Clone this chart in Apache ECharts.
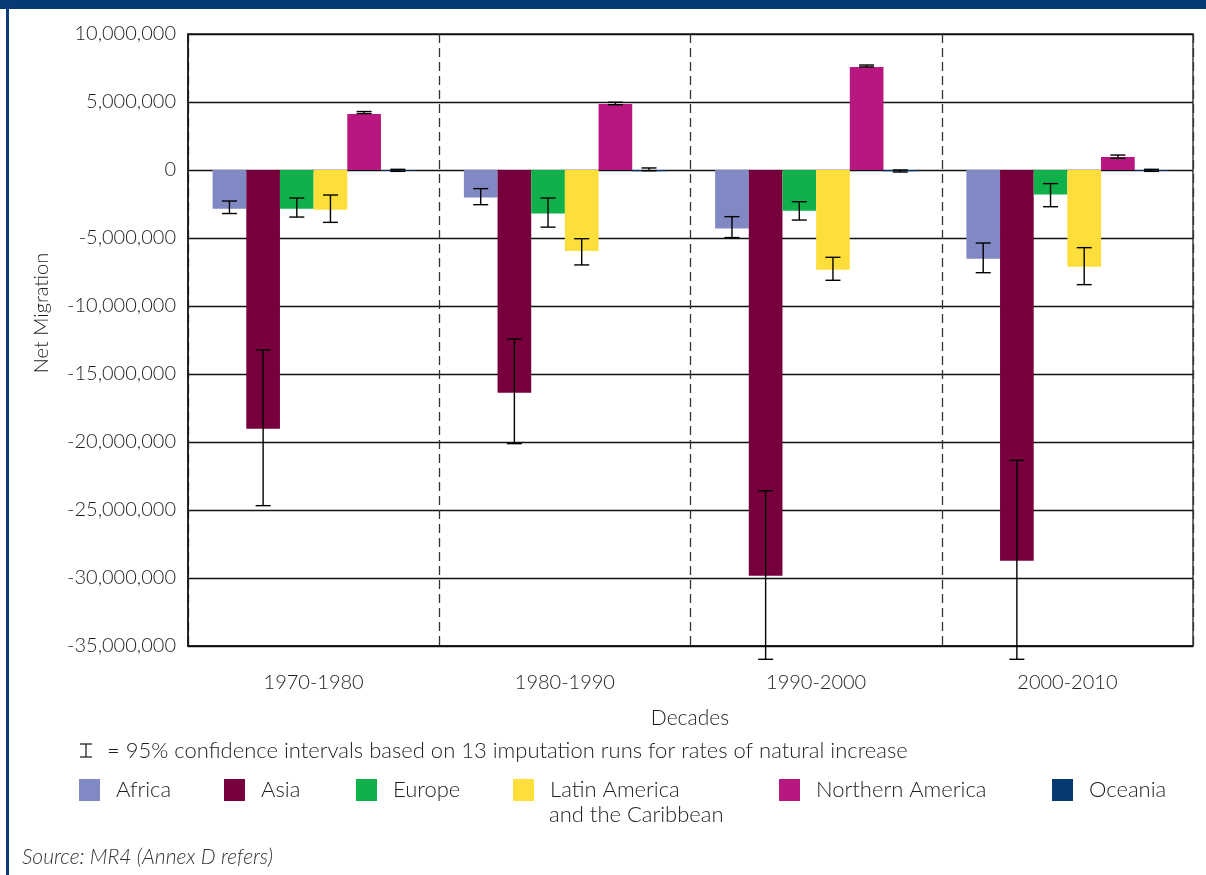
<!DOCTYPE html>
<html>
<head>
<meta charset="utf-8">
<script src="https://cdn.jsdelivr.net/npm/echarts@6/dist/echarts.min.js"></script>
<style>
html,body{margin:0;padding:0;background:#fff;}
#chart{width:1206px;height:875px;}
</style>
</head>
<body>
<div id="chart"></div>
<script>
// ---- data ----
const decades = ['1970-1980', '1980-1990', '1990-2000', '2000-2010'];
const regions = ['Africa', 'Asia', 'Europe', 'Latin America and the Caribbean', 'Northern America', 'Oceania'];
const africa   = [-2850000, -2030000, -4300000, -6520000];
const asia     = [-19020000, -16370000, -29830000, -28730000];
const europe   = [-2850000, -3200000, -2990000, -1810000];
const latinAm  = [-2920000, -5950000, -7330000, -7110000];
const northAm  = [4120000, 4850000, 7570000, 960000];
const oceania  = [-60000, -100000, -100000, -60000];
// 95% confidence intervals [low, high]
const africaCI  = [[-3200000, -2280000], [-2550000, -1370000], [-4970000, -3430000], [-7550000, -5370000]];
const asiaCI    = [[-24680000, -13240000], [-20120000, -12430000], [-35980000, -23580000], [-35980000, -21350000]];
const europeCI  = [[-3460000, -2060000], [-4200000, -2060000], [-3680000, -2330000], [-2700000, -1000000]];
const latinAmCI = [[-3850000, -1840000], [-6980000, -5050000], [-8110000, -6420000], [-8430000, -5710000]];
const northAmCI = [[4150000, 4300000], [4800000, 4980000], [7580000, 7720000], [860000, 1100000]];
const oceaniaCI = [[-100000, 50000], [-50000, 150000], [-150000, 0], [-100000, 50000]];
const yTicks = { min: -35000000, max: 10000000, interval: 5000000 };

const colors = ['#8189c4', '#77003c', '#10b04a', '#fede3a', '#b8177f', '#063872'];
const values = [africa, asia, europe, latinAm, northAm, oceania];
const cis = [africaCI, asiaCI, europeCI, latinAmCI, northAmCI, oceaniaCI];

const CAT_GAP = 0.196;
const FONT = 'Lato, "Open Sans", sans-serif';
const FW = 300;
const TXT = '#1e1e1e';

const chart = echarts.init(document.getElementById('chart'), null, { renderer: 'canvas' });

function errRender(si) {
  return function (params, api) {
    const cat = api.value(0);
    const lo = api.coord([cat, api.value(1)]);
    const hi = api.coord([cat, api.value(2)]);
    const cw = api.size([1, 0])[0];
    const band = cw * (1 - CAT_GAP);
    const bw = band / regions.length;
    const x = lo[0] - band / 2 + bw * (si + 0.5);
    const cap = 7.5;
    const st = { stroke: '#000', lineWidth: 1.4 };
    return {
      type: 'group',
      children: [
        { type: 'line', shape: { x1: x, y1: lo[1], x2: x, y2: hi[1] }, style: st },
        { type: 'line', shape: { x1: x - cap, y1: lo[1], x2: x + cap, y2: lo[1] }, style: st },
        { type: 'line', shape: { x1: x - cap, y1: hi[1], x2: x + cap, y2: hi[1] }, style: st }
      ]
    };
  };
}

const series = [];
regions.forEach((r, i) => {
  series.push({
    name: r,
    type: 'bar',
    data: values[i],
    barGap: '0%',
    barCategoryGap: (CAT_GAP * 100) + '%',
    itemStyle: { color: colors[i] },
    z: 2
  });
});
regions.forEach((r, i) => {
  series.push({
    name: r + ' CI',
    type: 'custom',
    renderItem: errRender(i),
    data: cis[i].map((d, k) => [k, d[0], d[1]]),
    z: 5,
    silent: true
  });
});

const legendLefts = [79, 224, 356, 513, 779, 1052];
const legendLabels = ['Africa', 'Asia', 'Europe', 'Latin America', 'Northern America', 'Oceania'];
const legends = regions.map((r, i) => ({
  data: [r],
  left: legendLefts[i],
  top: 779,
  padding: 0,
  itemWidth: 21,
  itemHeight: 22,
  icon: 'rect',
  selectedMode: false,
  formatter: () => legendLabels[i],
  textStyle: {
    fontFamily: FONT, fontSize: 22, fontWeight: FW, color: TXT,
    padding: [0, 0, 0, 11]
  }
}));

const option = {
  animation: false,
  backgroundColor: '#fff',
  grid: { left: 188, right: 13, top: 34, bottom: 229, show: true, borderColor: '#222', borderWidth: 1.3 },
  xAxis: {
    type: 'category',
    data: decades,
    axisLine: { onZero: false, lineStyle: { color: '#111', width: 1.5 } },
    axisTick: { show: false },
    axisLabel: { fontFamily: FONT, fontSize: 20, fontWeight: FW, color: TXT, margin: 27 },
    splitLine: { show: true, lineStyle: { color: '#333', type: [9, 5], width: 1.3 } }
  },
  yAxis: {
    type: 'value',
    min: yTicks.min, max: yTicks.max, interval: yTicks.interval,
    axisLine: { show: true, lineStyle: { color: '#111', width: 1.5 } },
    axisTick: { show: false },
    axisLabel: {
      fontFamily: FONT, fontSize: 20, fontWeight: FW, color: TXT, margin: 12,
      formatter: v => v.toLocaleString('en-US')
    },
    splitLine: { show: true, lineStyle: { color: '#111', width: 1.3 } }
  },
  legend: legends,
  series: series,
  graphic: [
    { type: 'rect', left: 0, top: 0, shape: { width: 1206, height: 9 }, style: { fill: '#063a74' } },
    { type: 'rect', left: 6, top: 0, shape: { width: 3, height: 875 }, style: { fill: '#0a3a78' } },
    {
      type: 'text', x: 690, y: 718,
      style: { text: 'Decades', fontFamily: FONT, fontSize: 21, fontWeight: FW, fill: TXT, align: 'center', verticalAlign: 'middle' }
    },
    {
      type: 'text', x: 42, y: 313, rotation: Math.PI / 2,
      style: { text: 'Net Migration', fontFamily: FONT, fontSize: 20, fontWeight: FW, fill: TXT, align: 'center', verticalAlign: 'middle' }
    },
    {
      type: 'group', x: 0, y: 0,
      children: [
        { type: 'line', shape: { x1: 86, y1: 744, x2: 86, y2: 757 }, style: { stroke: '#222', lineWidth: 1.3 } },
        { type: 'line', shape: { x1: 80, y1: 744, x2: 92, y2: 744 }, style: { stroke: '#222', lineWidth: 1.3 } },
        { type: 'line', shape: { x1: 80, y1: 757, x2: 92, y2: 757 }, style: { stroke: '#222', lineWidth: 1.3 } }
      ]
    },
    {
      type: 'text', x: 107, y: 751,
      style: { text: '= 95% confidence intervals based on 13 imputation runs for rates of natural increase', fontFamily: FONT, fontSize: 22, fontWeight: FW, fill: TXT, align: 'left', verticalAlign: 'middle' }
    },
    {
      type: 'text', x: 549, y: 815,
      style: { text: 'and the Caribbean', fontFamily: FONT, fontSize: 22, fontWeight: FW, fill: TXT, align: 'left', verticalAlign: 'middle' }
    },
    {
      type: 'text', x: 22, y: 857,
      style: { text: 'Source: MR4 (Annex D refers)', fontFamily: FONT, fontSize: 21, fontStyle: 'italic', fontWeight: FW, fill: '#333', align: 'left', verticalAlign: 'middle' }
    }
  ]
};
chart.setOption(option);
</script>
</body>
</html>
